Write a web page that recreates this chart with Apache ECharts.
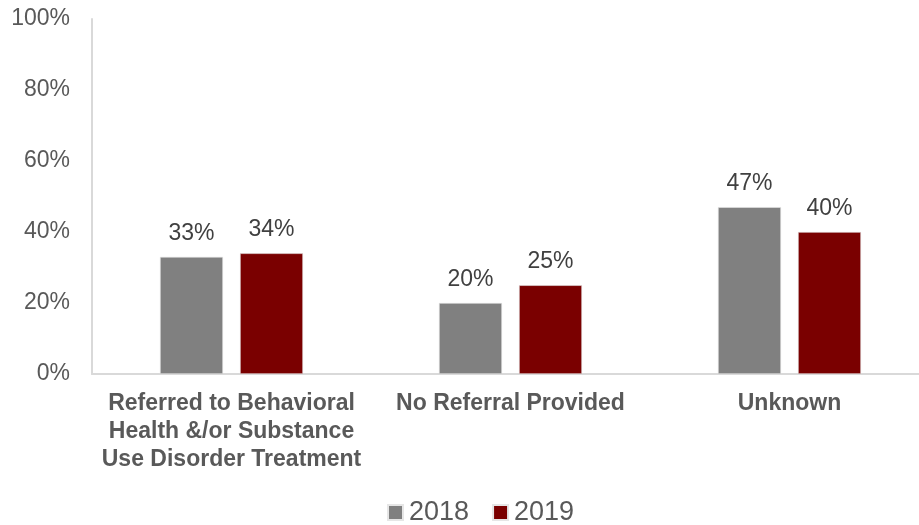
<!DOCTYPE html>
<html>
<head>
<meta charset="utf-8">
<script src="https://cdn.jsdelivr.net/npm/echarts@6/dist/echarts.min.js"></script>
<style>
  html, body { margin: 0; padding: 0; background: #fff; }
  #chart { width: 919px; height: 525px; }
</style>
</head>
<body>
<div id="chart"></div>
<script>
// Referral outcome shares by year
const categories = [
  'Referred to Behavioral\nHealth &/or Substance\nUse Disorder Treatment',
  'No Referral Provided',
  'Unknown'
];
const seriesNames = ['2018', '2019'];
const values2018 = [33, 20, 47];
const values2019 = [34, 25, 40];
const yTicks = [0, 20, 40, 60, 80, 100];

const colors = ['#808080', '#7a0000'];
const font = '"Liberation Sans", Arial, sans-serif';

const chart = echarts.init(document.getElementById('chart'));

const makeSeries = (name, data, color) => ({
  name,
  type: 'bar',
  data,
  barWidth: 63,
  barGap: '27%',
  itemStyle: { color, borderColor: '#e6e6e6', borderWidth: 0.6 },
  label: {
    show: true,
    position: 'top',
    distance: 12,
    formatter: p => p.value + '%',
    fontFamily: font,
    fontSize: 23,
    color: '#404040'
  }
});

chart.setOption({
  animation: false,
  legend: {
    top: 494,
    left: 382,
    itemWidth: 15,
    itemHeight: 15,
    itemGap: 23,
    icon: 'rect',
    textStyle: { fontFamily: font, fontSize: 27, color: '#595959', padding: [0, 0, 0, 1] },
    data: seriesNames
  },
  // the plot area runs slightly past the right edge of the canvas
  grid: { left: 92, width: 837, top: 19, bottom: 151, outerBoundsMode: 'none', containLabel: false },
  xAxis: {
    type: 'category',
    data: categories,
    axisLine: { lineStyle: { color: '#d9d9d9', width: 2 } },
    axisTick: { show: false },
    axisLabel: {
      margin: 16,
      fontFamily: font,
      fontSize: 23,
      fontWeight: 'bold',
      lineHeight: 28,
      color: '#595959',
      interval: 0
    }
  },
  yAxis: {
    type: 'value',
    min: yTicks[0],
    max: yTicks[yTicks.length - 1],
    interval: yTicks[1] - yTicks[0],
    axisLine: { show: true, lineStyle: { color: '#d9d9d9', width: 2 } },
    axisTick: { show: false },
    splitLine: { show: false },
    axisLabel: {
      margin: 22,
      fontFamily: font,
      fontSize: 23,
      color: '#595959',
      formatter: v => v + '%'
    }
  },
  series: [
    makeSeries(seriesNames[0], values2018, colors[0]),
    makeSeries(seriesNames[1], values2019, colors[1])
  ]
});
</script>
</body>
</html>
